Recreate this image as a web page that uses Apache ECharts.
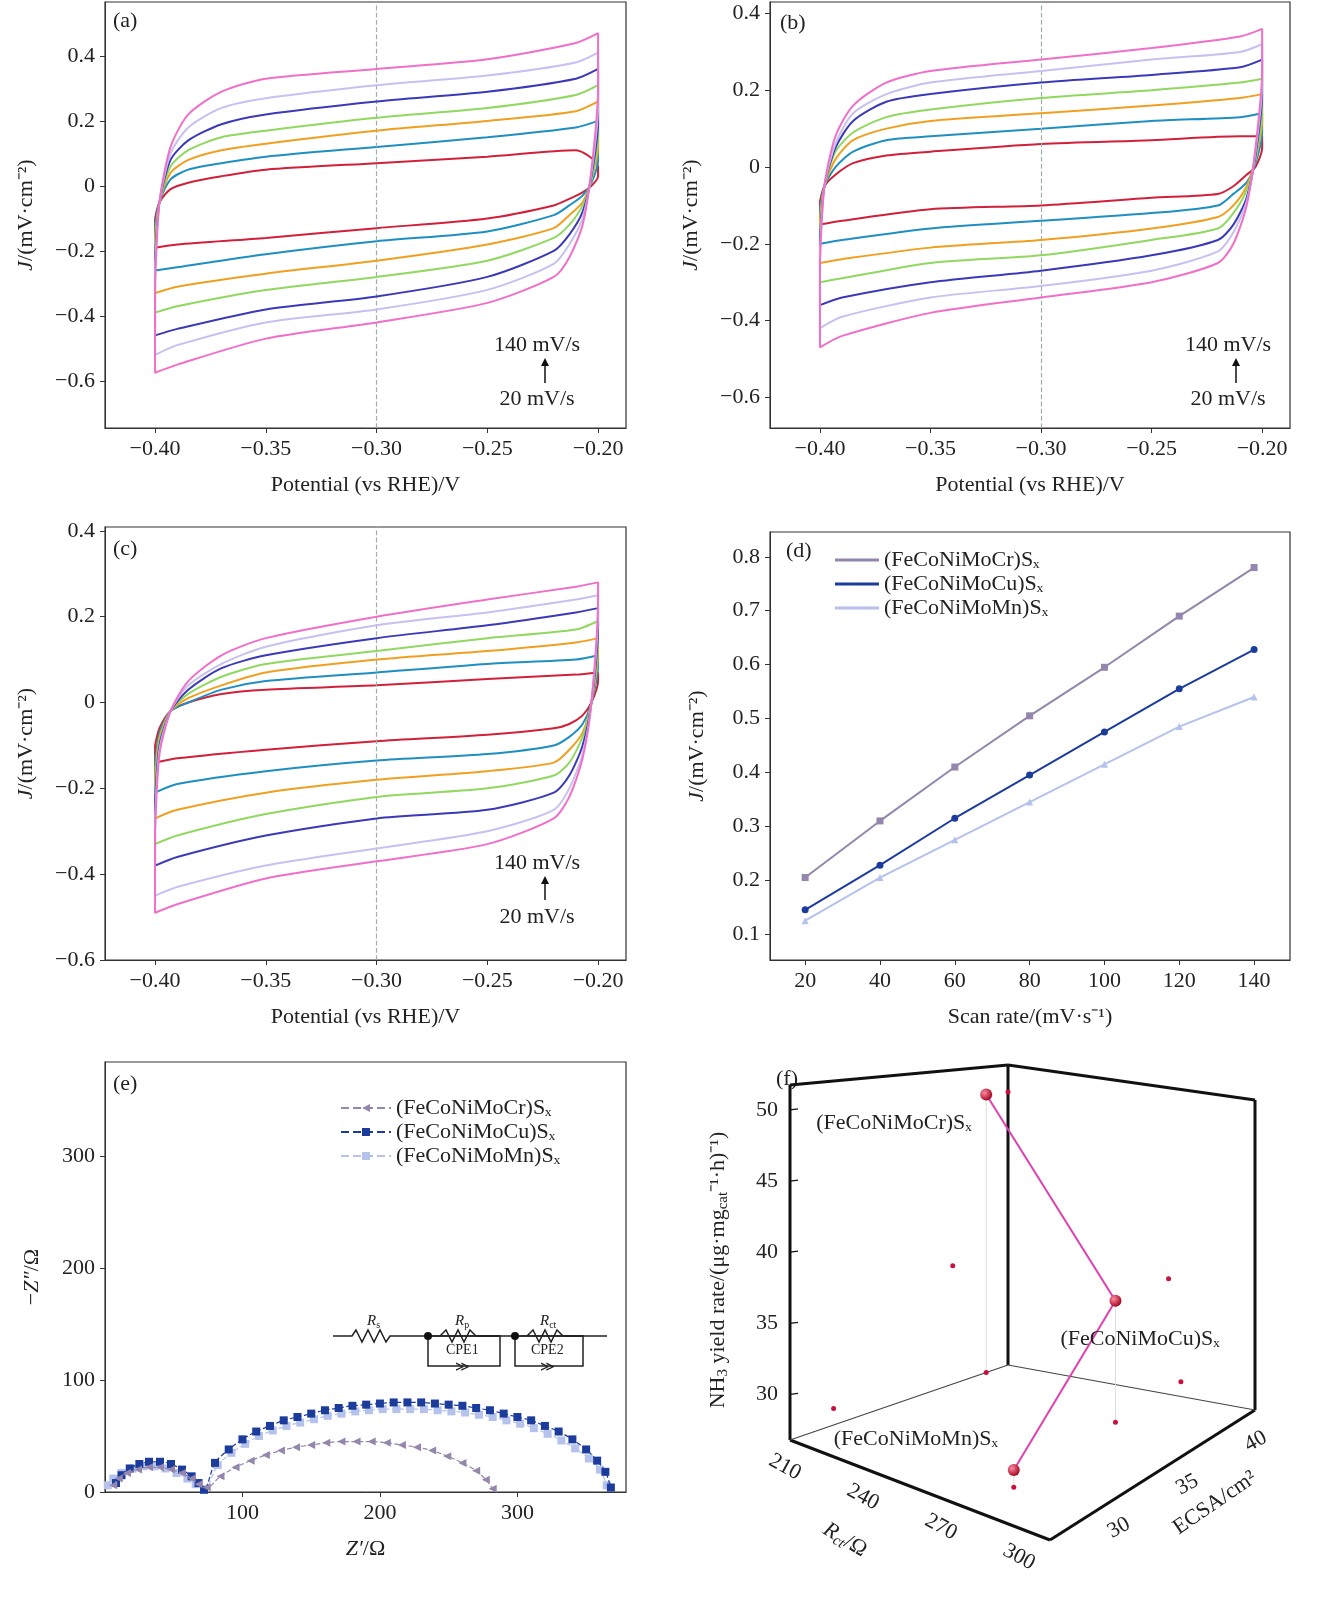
<!DOCTYPE html>
<html><head><meta charset="utf-8">
<script src="https://cdn.jsdelivr.net/npm/echarts@6/dist/echarts.min.js"></script>
<style>html,body{margin:0;background:#fff}#c{width:1318px;height:1600px}</style>
</head><body><div id="c"></div>
<script>
var FONT = 'Liberation Serif'
// CV potentials: upper branch (forward), lower branch (reverse)
var upX = [-0.40, -0.398, -0.393, -0.385, -0.37, -0.35, -0.30, -0.25, -0.21, -0.20]
var loX = [-0.20, -0.203, -0.207, -0.213, -0.22, -0.25, -0.30, -0.35, -0.39, -0.40]
var rateNames = ['20 mV/s', '40 mV/s', '60 mV/s', '80 mV/s', '100 mV/s', '120 mV/s', '140 mV/s']
var rateColors = ['#d0203a', '#1e8fc0', '#f0a020', '#90d860', '#3a3ab8', '#c8c0f0', '#f070c8']

// panel (a), 20 -> 140 mV/s
var cvA = [
  { up: [-0.10, -0.05, -0.01, 0.01, 0.03, 0.05, 0.07, 0.09, 0.11, 0.06], lo: [0.03, 0.0, -0.02, -0.04, -0.06, -0.10, -0.13, -0.16, -0.18, -0.19] },
  { up: [-0.12, -0.05, 0.02, 0.05, 0.07, 0.09, 0.12, 0.15, 0.18, 0.20], lo: [0.08, 0.01, -0.03, -0.06, -0.09, -0.14, -0.17, -0.21, -0.25, -0.26] },
  { up: [-0.15, -0.05, 0.04, 0.08, 0.11, 0.13, 0.17, 0.20, 0.23, 0.26], lo: [0.12, 0.02, -0.05, -0.09, -0.13, -0.18, -0.23, -0.27, -0.31, -0.33] },
  { up: [-0.18, -0.05, 0.06, 0.11, 0.15, 0.17, 0.21, 0.24, 0.28, 0.31], lo: [0.16, 0.02, -0.06, -0.12, -0.16, -0.23, -0.28, -0.32, -0.37, -0.39] },
  { up: [-0.22, -0.05, 0.08, 0.14, 0.19, 0.22, 0.26, 0.29, 0.33, 0.36], lo: [0.20, 0.03, -0.08, -0.15, -0.20, -0.28, -0.34, -0.38, -0.44, -0.46] },
  { up: [-0.25, -0.05, 0.10, 0.18, 0.24, 0.27, 0.31, 0.34, 0.38, 0.41], lo: [0.25, 0.04, -0.10, -0.18, -0.24, -0.32, -0.38, -0.42, -0.49, -0.52] },
  { up: [-0.30, -0.05, 0.12, 0.22, 0.29, 0.33, 0.36, 0.39, 0.44, 0.47], lo: [0.30, 0.05, -0.12, -0.22, -0.28, -0.36, -0.42, -0.47, -0.55, -0.575] }
]
var cvB = [
  { up: [-0.09, -0.05, -0.02, 0.01, 0.03, 0.04, 0.06, 0.07, 0.08, 0.08], lo: [0.05, 0.0, -0.02, -0.05, -0.07, -0.08, -0.10, -0.11, -0.14, -0.15] },
  { up: [-0.11, -0.05, 0.0, 0.04, 0.07, 0.08, 0.10, 0.12, 0.13, 0.14], lo: [0.09, 0.01, -0.04, -0.07, -0.10, -0.12, -0.14, -0.16, -0.19, -0.20] },
  { up: [-0.13, -0.05, 0.02, 0.07, 0.10, 0.12, 0.14, 0.16, 0.18, 0.19], lo: [0.12, 0.02, -0.05, -0.10, -0.13, -0.16, -0.19, -0.21, -0.24, -0.25] },
  { up: [-0.16, -0.05, 0.04, 0.09, 0.13, 0.15, 0.18, 0.20, 0.22, 0.23], lo: [0.15, 0.02, -0.06, -0.12, -0.16, -0.19, -0.23, -0.25, -0.29, -0.30] },
  { up: [-0.19, -0.05, 0.05, 0.12, 0.17, 0.19, 0.22, 0.24, 0.26, 0.28], lo: [0.19, 0.03, -0.08, -0.15, -0.19, -0.23, -0.27, -0.30, -0.34, -0.36] },
  { up: [-0.22, -0.05, 0.06, 0.14, 0.19, 0.22, 0.25, 0.28, 0.30, 0.32], lo: [0.22, 0.04, -0.09, -0.17, -0.22, -0.27, -0.31, -0.34, -0.39, -0.42] },
  { up: [-0.25, -0.05, 0.08, 0.16, 0.22, 0.25, 0.28, 0.31, 0.34, 0.36], lo: [0.25, 0.05, -0.10, -0.20, -0.25, -0.30, -0.34, -0.38, -0.44, -0.47] }
]
var cvC = [
  { up: [-0.10, -0.06, -0.02, 0.0, 0.02, 0.03, 0.04, 0.055, 0.065, 0.07], lo: [0.05, 0.0, -0.03, -0.05, -0.06, -0.075, -0.09, -0.11, -0.13, -0.14] },
  { up: [-0.14, -0.07, -0.02, 0.0, 0.03, 0.05, 0.07, 0.09, 0.10, 0.11], lo: [0.09, 0.0, -0.05, -0.08, -0.10, -0.12, -0.135, -0.16, -0.19, -0.21] },
  { up: [-0.17, -0.08, -0.02, 0.01, 0.04, 0.07, 0.10, 0.12, 0.14, 0.15], lo: [0.12, 0.0, -0.07, -0.11, -0.14, -0.16, -0.18, -0.21, -0.25, -0.27] },
  { up: [-0.20, -0.09, -0.02, 0.02, 0.06, 0.09, 0.12, 0.15, 0.17, 0.19], lo: [0.15, 0.0, -0.08, -0.14, -0.17, -0.20, -0.22, -0.26, -0.31, -0.33] },
  { up: [-0.23, -0.10, -0.02, 0.03, 0.08, 0.11, 0.15, 0.18, 0.21, 0.22], lo: [0.18, 0.0, -0.10, -0.17, -0.21, -0.25, -0.27, -0.31, -0.36, -0.38] },
  { up: [-0.27, -0.11, -0.02, 0.04, 0.09, 0.13, 0.18, 0.21, 0.24, 0.25], lo: [0.22, 0.0, -0.12, -0.20, -0.25, -0.30, -0.34, -0.38, -0.43, -0.45] },
  { up: [-0.30, -0.12, -0.02, 0.05, 0.11, 0.15, 0.20, 0.24, 0.27, 0.28], lo: [0.25, 0.0, -0.13, -0.22, -0.27, -0.33, -0.37, -0.41, -0.47, -0.49] }
]

// panel (d)
var scanRates = [20, 40, 60, 80, 100, 120, 140]
var sampleNames = ['(FeCoNiMoCr)Sₓ', '(FeCoNiMoCu)Sₓ', '(FeCoNiMoMn)Sₓ']
var sampleColors = ['#9486ac', '#1c3c9c', '#b4c2ec']
var jCr = [0.205, 0.31, 0.41, 0.505, 0.595, 0.69, 0.78]
var jCu = [0.145, 0.228, 0.315, 0.395, 0.475, 0.555, 0.628]
var jMn = [0.125, 0.205, 0.275, 0.345, 0.415, 0.485, 0.54]

// panel (e) Nyquist
var zCrRe = [6, 10, 16, 24, 32, 40, 48, 56, 63, 68, 74, 84, 95, 106, 117, 128, 139, 150, 161, 172, 183, 194, 205, 216, 227, 238, 249, 260, 270, 277, 282]
var zCrIm = [6, 12, 17, 20, 22, 22, 20, 17, 12, 7, 4, 14, 22, 28, 33, 37, 40, 42, 44, 45, 45, 45, 44, 42, 40, 37, 32, 26, 19, 11, 3]
var zCuRe = [8, 12, 18, 25, 32, 40, 48, 56, 63, 68, 72, 80, 90, 100, 110, 120, 130, 140, 150, 160, 170, 180, 190, 200, 210, 220, 230, 240, 250, 260, 270, 280, 290, 300, 310, 320, 330, 340, 350, 358, 364, 368]
var zCuIm = [8, 15, 21, 25, 27, 27, 25, 20, 14, 8, 2, 26, 38, 47, 54, 59, 64, 67, 70, 73, 75, 77, 78, 79, 80, 80, 80, 79, 78, 77, 75, 73, 70, 67, 64, 59, 54, 47, 38, 28, 18, 4]
var zMnRe = [2, 6, 12, 20, 28, 36, 44, 52, 60, 66, 72, 82, 92, 102, 112, 122, 132, 142, 152, 162, 172, 182, 192, 202, 212, 222, 232, 242, 252, 262, 272, 282, 292, 302, 312, 322, 332, 342, 352, 360, 365]
var zMnIm = [6, 12, 17, 21, 23, 23, 21, 17, 12, 7, 2, 24, 35, 43, 50, 55, 59, 62, 65, 68, 70, 72, 73, 74, 74, 74, 74, 73, 72, 71, 69, 67, 64, 61, 57, 52, 46, 39, 30, 20, 6]

// panel (f) 3D scatter: Rct, ECSA, NH3 yield
var rctVals = [205, 270, 275]
var ecsaVals = [40.5, 38.2, 30]
var nh3Vals = [49.5, 36.2, 28]
var ptLabels = ['(FeCoNiMoCr)Sₓ', '(FeCoNiMoCu)Sₓ', '(FeCoNiMoMn)Sₓ']
var rctTicks = [210, 240, 270, 300]
var ecsaTicks = [30, 35, 40]
var nh3Ticks = [30, 35, 40, 45, 50]

var chart = echarts.init(document.getElementById('c'))

function fmt (d) {
  return function (v) { return v === 0 ? '0' : v.toFixed(d).replace('-', '−') }
}
var tickFont = { fontFamily: FONT, fontSize: 22, color: '#222' }
var grids = [
  { left: 105, top: 2, width: 521, height: 426 },
  { left: 770, top: 2, width: 520, height: 426 },
  { left: 105, top: 527, width: 521, height: 433 },
  { left: 770, top: 532, width: 520, height: 428 },
  { left: 105, top: 1062, width: 521, height: 430 }
].map(function (g) { return Object.assign({ show: true, borderColor: '#333', borderWidth: 1.2 }, g) })

function xAx (gi, min, max, vals, dec, name) {
  return {
    type: 'value', gridIndex: gi, min: min, max: max,
    splitLine: { show: false }, axisLine: { onZero: false, lineStyle: { color: '#333' } },
    axisTick: { customValues: vals, length: 5, lineStyle: { color: '#333' } },
    axisLabel: Object.assign({ customValues: vals, formatter: fmt(dec), margin: 10 }, tickFont),
    name: name, nameLocation: 'middle', nameGap: 46,
    nameTextStyle: { fontFamily: FONT, fontSize: 22, color: '#222', rich: { i: { fontFamily: FONT, fontSize: 22, fontStyle: 'italic', color: '#222' } } }
  }
}
function yAx (gi, min, max, vals, dec, name, gap) {
  var a = xAx(gi, min, max, vals, dec, name)
  a.nameGap = gap
  a.nameRotate = 90
  return a
}
var jName = '{i|J}/(mV·cm⁻²)'
var potName = 'Potential (vs RHE)/V'
var potTicks = [-0.40, -0.35, -0.30, -0.25, -0.20]

var xAxes = [
  xAx(0, -0.4226, -0.1874, potTicks, 2, potName),
  xAx(1, -0.4226, -0.1874, potTicks, 2, potName),
  xAx(2, -0.4226, -0.1874, potTicks, 2, potName),
  xAx(3, 10.6, 149.6, scanRates, 0, 'Scan rate/(mV·s⁻¹)'),
  xAx(4, 0, 379, [100, 200, 300], 0, '{i|Z′}/Ω')
]
var yAxes = [
  yAx(0, -0.745, 0.566, [-0.6, -0.4, -0.2, 0, 0.2, 0.4], 1, jName, 68),
  yAx(1, -0.68, 0.43, [-0.6, -0.4, -0.2, 0, 0.2, 0.4], 1, jName, 68),
  yAx(2, -0.6, 0.409, [-0.6, -0.4, -0.2, 0, 0.2, 0.4], 1, jName, 68),
  yAx(3, 0.052, 0.846, [0.1, 0.2, 0.3, 0.4, 0.5, 0.6, 0.7, 0.8], 1, jName, 62),
  yAx(4, 0, 384, [0, 100, 200, 300], 0, '−{i|Z″}/Ω', 62)
]

var series = []
;[cvA, cvB, cvC].forEach(function (panel, pi) {
  panel.forEach(function (c, ci) {
    var data = upX.map(function (x, i) { return [x, c.up[i]] })
      .concat(loX.map(function (x, i) { return [x, c.lo[i]] }))
    data.push([upX[0], c.up[0]])
    var s = {
      type: 'line', name: rateNames[ci], xAxisIndex: pi, yAxisIndex: pi,
      data: data, smooth: 0.25, showSymbol: false,
      lineStyle: { color: rateColors[ci], width: 2 }, z: 3 + ci
    }
    if (ci === 0) {
      s.markLine = {
        silent: true, symbol: 'none', label: { show: false },
        lineStyle: { color: '#9ab0a8', type: 'dashed', width: 1.2 },
        data: [{ xAxis: -0.30 }]
      }
    }
    series.push(s)
  })
})

var dSyms = ['rect', 'circle', 'triangle']
;[jCr, jCu, jMn].forEach(function (arr, i) {
  series.push({
    type: 'line', name: sampleNames[i], xAxisIndex: 3, yAxisIndex: 3,
    data: scanRates.map(function (x, k) { return [x, arr[k]] }),
    symbol: dSyms[i], symbolSize: 7,
    lineStyle: { color: sampleColors[i], width: 2 }, itemStyle: { color: sampleColors[i] }
  })
})

var eSyms = ['path://M0,5 L10,0 L10,10 Z', 'rect', 'rect']
;[[zCrRe, zCrIm], [zCuRe, zCuIm], [zMnRe, zMnIm]].forEach(function (p, i) {
  series.push({
    type: 'line', name: sampleNames[i] + ' ', xAxisIndex: 4, yAxisIndex: 4,
    data: p[0].map(function (x, k) { return [x, p[1][k]] }),
    symbol: eSyms[i], symbolSize: 8, smooth: 0.3,
    lineStyle: { color: sampleColors[i], width: 1.2, type: 'dashed' },
    itemStyle: { color: sampleColors[i] }, z: 5 - i
  })
})

// 3D panel (f) projection
var A = [790, 1440], B = [1050, 1540], C = [1255, 1410], D = [1008, 1365]
var H = { A: 355, B: 380, C: 310, D: 300 }
var RMIN = 205, RMAX = 305, EMIN = 27, EMAX = 42, NMIN = 26.8, NMAX = 51.75
function proj (r, e, n) {
  var a = (r - RMIN) / (RMAX - RMIN), b = (e - EMIN) / (EMAX - EMIN)
  var wA = (1 - a) * (1 - b), wB = a * (1 - b), wC = a * b, wD = (1 - a) * b
  var x = A[0] * wA + B[0] * wB + C[0] * wC + D[0] * wD
  var y = A[1] * wA + B[1] * wB + C[1] * wC + D[1] * wD
  var h = H.A * wA + H.B * wB + H.C * wC + H.D * wD
  return [x, y - (n - NMIN) / (NMAX - NMIN) * h]
}
function ln (p, q, w, col) {
  return { type: 'line', shape: { x1: p[0], y1: p[1], x2: q[0], y2: q[1] }, style: { stroke: col || '#111', lineWidth: w } }
}
function txt (x, y, s, opt) {
  return { type: 'text', x: x, y: y, rotation: (opt && opt.rot) || 0, style: Object.assign({ text: s, fontFamily: FONT, fontSize: 22, fill: '#222' }, opt && opt.style) }
}
series.push({
  type: 'custom', coordinateSystem: 'none', data: [[0]], silent: true,
  renderItem: function () {
    var ch = []
    var a0 = proj(RMIN, EMIN, NMIN), a1 = proj(RMIN, EMIN, NMAX)
    var b0 = proj(RMAX, EMIN, NMIN)
    var c0 = proj(RMAX, EMAX, NMIN), c1 = proj(RMAX, EMAX, NMAX)
    var d0 = proj(RMIN, EMAX, NMIN), d1 = proj(RMIN, EMAX, NMAX)
    ch.push(ln(a0, a1, 3), ln(a1, d1, 3), ln(d1, d0, 3), ln(d1, c1, 3), ln(c1, c0, 3),
      ln(a0, b0, 3), ln(b0, c0, 3), ln(a0, d0, 1.2, '#444'), ln(d0, c0, 1.2, '#444'))
    nh3Ticks.forEach(function (n) {
      var p = proj(RMIN, EMIN, n)
      ch.push(ln(p, [p[0] + 8, p[1] - 1], 1.2))
      ch.push(txt(p[0] - 12, p[1], String(n), { style: { align: 'right', verticalAlign: 'middle' } }))
    })
    rctTicks.forEach(function (r) {
      var p = proj(r, EMIN, NMIN)
      ch.push(txt(p[0] - 18, p[1] + 22, String(r), { rot: -0.5, style: { align: 'center', verticalAlign: 'middle' } }))
    })
    ecsaTicks.forEach(function (e) {
      var p = proj(RMAX, e, NMIN)
      ch.push(txt(p[0] + 28, p[1] + 14, String(e), { rot: 0.5, style: { align: 'center', verticalAlign: 'middle' } }))
    })
    var pts = rctVals.map(function (r, i) { return proj(r, ecsaVals[i], nh3Vals[i]) })
    // faint guides to floor and projections on walls
    pts.forEach(function (p, i) {
      var f = proj(rctVals[i], ecsaVals[i], NMIN)
      ch.push({ type: 'line', shape: { x1: p[0], y1: p[1], x2: f[0], y2: f[1] }, style: { stroke: '#ddd', lineWidth: 1 } })
      var wl = proj(RMIN, ecsaVals[i], nh3Vals[i]), wb = proj(rctVals[i], EMAX, nh3Vals[i])
      ch.push({ type: 'circle', shape: { cx: wl[0], cy: wl[1], r: 2.5 }, style: { fill: '#c8103c' } })
      ch.push({ type: 'circle', shape: { cx: wb[0], cy: wb[1], r: 2.5 }, style: { fill: '#c8103c' } })
      ch.push({ type: 'circle', shape: { cx: f[0], cy: f[1], r: 2.5 }, style: { fill: '#c8103c' } })
    })
    ch.push({ type: 'polyline', shape: { points: pts }, style: { stroke: '#e040b0', lineWidth: 2, fill: null } })
    pts.forEach(function (p) {
      ch.push({ type: 'circle', shape: { cx: p[0], cy: p[1], r: 6 },
        style: { fill: new echarts.graphic.RadialGradient(0.35, 0.35, 0.7, [{ offset: 0, color: '#ff8aa0' }, { offset: 1, color: '#a0001e' }]) } })
    })
    ch.push(txt(pts[0][0] - 170, pts[0][1] + 18, ptLabels[0]))
    ch.push(txt(pts[1][0] - 55, pts[1][1] + 28, ptLabels[1]))
    ch.push(txt(pts[2][0] - 180, pts[2][1] - 42, ptLabels[2]))
    return { type: 'group', children: ch }
  }
})

// circuit inset in (e)
var cy = 1336
var subRich = { i: { fontStyle: 'italic', fontFamily: FONT, fontSize: 15 }, s: { fontFamily: FONT, fontSize: 10, padding: [8, 0, 0, 0] } }
var circuit = [
  { type: 'polyline', shape: { points: [[333, cy], [352, cy], [356, cy - 6], [362, cy + 6], [368, cy - 6], [374, cy + 6], [380, cy - 6], [386, cy + 6], [390, cy], [607, cy]] }, style: { stroke: '#222', lineWidth: 1.5, fill: null } },
  { type: 'polyline', shape: { points: [[440, cy], [446, cy - 6], [452, cy + 6], [458, cy - 6], [464, cy + 6], [470, cy - 6], [476, cy], [500, cy]] }, style: { stroke: '#222', lineWidth: 1.5, fill: null } },
  { type: 'polyline', shape: { points: [[527, cy], [533, cy - 6], [539, cy + 6], [545, cy - 6], [551, cy + 6], [557, cy - 6], [563, cy], [583, cy]] }, style: { stroke: '#222', lineWidth: 1.5, fill: null } },
  { type: 'rect', shape: { x: 428, y: cy, width: 72, height: 30 }, style: { stroke: '#222', fill: null, lineWidth: 1.5 } },
  { type: 'rect', shape: { x: 515, y: cy, width: 68, height: 30 }, style: { stroke: '#222', fill: null, lineWidth: 1.5 } },
  { type: 'circle', shape: { cx: 428, cy: cy, r: 4 }, style: { fill: '#111' } },
  { type: 'circle', shape: { cx: 515, cy: cy, r: 4 }, style: { fill: '#111' } },
  txt(367, 1312, '{i|R}{s|s}', { style: { fontSize: 15, rich: subRich } }),
  txt(455, 1312, '{i|R}{s|p}', { style: { fontSize: 15, rich: subRich } }),
  txt(540, 1312, '{i|R}{s|ct}', { style: { fontSize: 15, rich: subRich } }),
  txt(446, 1343, 'CPE1', { style: { fontSize: 14 } }),
  txt(531, 1343, 'CPE2', { style: { fontSize: 14 } }),
  txt(455, 1360, '≫', { style: { fontSize: 14 } }),
  txt(540, 1360, '≫', { style: { fontSize: 14 } })
]

var graphics = [
  txt(113, 10, '(a)'), txt(780, 12, '(b)'), txt(113, 538, '(c)'), txt(786, 540, '(d)'), txt(113, 1073, '(e)'), txt(776, 1068, '(f)'),
  txt(537, 345, '140 mV/s', { style: { align: 'center', verticalAlign: 'middle' } }),
  txt(537, 399, '20 mV/s', { style: { align: 'center', verticalAlign: 'middle' } }),
  txt(1228, 345, '140 mV/s', { style: { align: 'center', verticalAlign: 'middle' } }),
  txt(1228, 399, '20 mV/s', { style: { align: 'center', verticalAlign: 'middle' } }),
  txt(537, 863, '140 mV/s', { style: { align: 'center', verticalAlign: 'middle' } }),
  txt(537, 917, '20 mV/s', { style: { align: 'center', verticalAlign: 'middle' } }),
  txt(718, 1270, '{n|NH}{s|3}{n| yield rate/(μg·mg}{s|cat}{n|⁻¹·h)⁻¹)}', { rot: Math.PI / 2, style: { align: 'center', verticalAlign: 'middle', rich: { n: { fontFamily: FONT, fontSize: 22 }, s: { fontFamily: FONT, fontSize: 15, padding: [10, 0, 0, 0] } } } }),
  txt(845, 1540, '{i|R}{s|ct}{n|/Ω}', { rot: -0.55, style: { align: 'center', verticalAlign: 'middle', rich: { i: { fontFamily: FONT, fontSize: 22, fontStyle: 'italic' }, s: { fontFamily: FONT, fontSize: 15, fontStyle: 'italic', padding: [10, 0, 0, 0] }, n: { fontFamily: FONT, fontSize: 22 } } } }),
  txt(1215, 1503, 'ECSA/cm²', { rot: 0.6, style: { align: 'center', verticalAlign: 'middle' } })
].concat(circuit)
;[[545, 383, 360], [1236, 383, 360], [545, 900, 878]].forEach(function (a) {
  graphics.push({ type: 'line', shape: { x1: a[0], y1: a[1], x2: a[0], y2: a[2] }, style: { stroke: '#111', lineWidth: 1.5 } })
  graphics.push({ type: 'polygon', shape: { points: [[a[0] - 4, a[2] + 6], [a[0] + 4, a[2] + 6], [a[0], a[2] - 2]] }, style: { fill: '#111' } })
})

chart.setOption({
  animation: false,
  backgroundColor: '#fff',
  grid: grids,
  xAxis: xAxes,
  yAxis: yAxes,
  legend: [
    { data: sampleNames, left: 830, top: 544, orient: 'vertical', itemGap: 2, itemWidth: 44, itemHeight: 3, icon: 'rect',
      textStyle: { fontFamily: FONT, fontSize: 22, color: '#222' } },
    { data: sampleNames.map(function (n) { return n + ' ' }), left: 335, top: 1092, orient: 'vertical', itemGap: 2, itemWidth: 50, itemHeight: 10,
      textStyle: { fontFamily: FONT, fontSize: 22, color: '#222' } }
  ],
  series: series,
  graphic: graphics
})
</script>
</body></html>
